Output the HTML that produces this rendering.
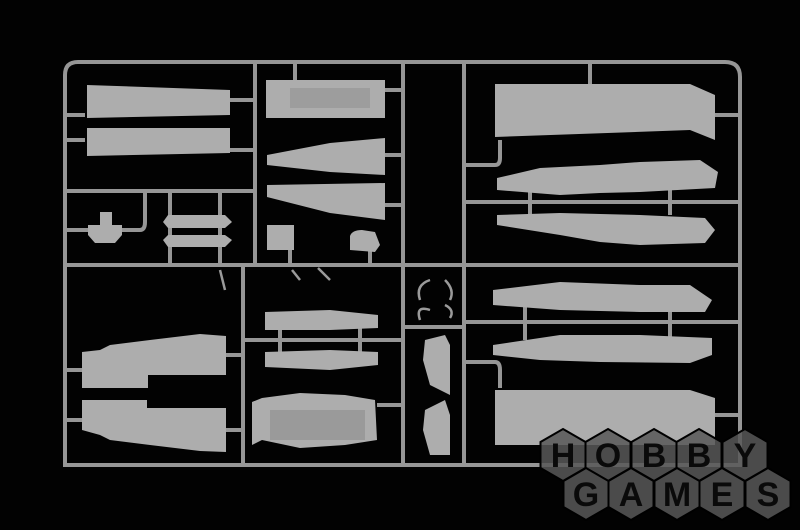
<!DOCTYPE html>
<html><head><meta charset="utf-8"><style>
html,body{margin:0;padding:0;background:#000;width:800px;height:530px;overflow:hidden}
svg{display:block}
.hx text{font-family:"Liberation Sans",sans-serif;font-weight:bold;font-size:34px;fill:#0a0a0a;text-anchor:middle;dominant-baseline:central}
</style></head><body>
<svg width="800" height="530" viewBox="0 0 800 530" xmlns="http://www.w3.org/2000/svg">
<rect width="800" height="530" fill="#020202"/>
<g fill="none" stroke="#969696" stroke-width="4">
<path d="M65,465 L65,75 Q65,62 78,62 L725,62 Q740,62 740,77 L740,465 Z"/>
<line x1="255" y1="62" x2="255" y2="265"/>
<line x1="243" y1="265" x2="243" y2="465"/>
<line x1="403" y1="62" x2="403" y2="465"/>
<line x1="464" y1="62" x2="464" y2="465"/>
<line x1="65" y1="191" x2="255" y2="191"/>
<line x1="65" y1="265" x2="740" y2="265"/>
<line x1="464" y1="202" x2="740" y2="202"/>
<line x1="464" y1="322" x2="740" y2="322"/>
<line x1="243" y1="340" x2="403" y2="340"/>
<line x1="403" y1="327" x2="464" y2="327"/>
<path d="M464,165 L495,165 Q500,165 500,158 L500,140"/>
<path d="M464,362 L495,362 Q500,362 500,370 L500,388"/>
<path d="M65,230 L140,230 Q145,230 145,222 L145,191"/>
<line x1="170" y1="191" x2="170" y2="265"/>
<line x1="220" y1="191" x2="220" y2="265"/>
<line x1="295" y1="62" x2="295" y2="80"/>
<line x1="590" y1="62" x2="590" y2="85"/>
<line x1="65" y1="115" x2="85" y2="115"/>
<line x1="65" y1="140" x2="85" y2="140"/>
<line x1="230" y1="100" x2="255" y2="100"/>
<line x1="230" y1="150" x2="255" y2="150"/>
<line x1="385" y1="90" x2="403" y2="90"/>
<line x1="385" y1="155" x2="403" y2="155"/>
<line x1="385" y1="205" x2="403" y2="205"/>
<line x1="715" y1="115" x2="740" y2="115"/>
<line x1="715" y1="415" x2="740" y2="415"/>
<line x1="530" y1="190" x2="530" y2="215"/>
<line x1="670" y1="190" x2="670" y2="215"/>
<line x1="525" y1="305" x2="525" y2="340"/>
<line x1="670" y1="305" x2="670" y2="340"/>
<line x1="280" y1="325" x2="280" y2="355"/>
<line x1="360" y1="325" x2="360" y2="355"/>
<line x1="226" y1="355" x2="243" y2="355"/>
<line x1="226" y1="430" x2="243" y2="430"/>
<line x1="65" y1="370" x2="82" y2="370"/>
<line x1="65" y1="420" x2="82" y2="420"/>
<line x1="377" y1="405" x2="403" y2="405"/>
<line x1="290" y1="240" x2="290" y2="265"/>
<line x1="370" y1="240" x2="370" y2="265"/>
</g>
<g fill="#adadad">
<polygon points="87,85 230,90 230,115 87,118"/>
<polygon points="87,128 230,128 230,153 87,156"/>
<polygon points="266,80 385,80 385,118 266,118"/>
<polygon points="267,155 330,143 385,138 385,175 330,172 267,165"/>
<polygon points="267,185 385,183 385,220 330,213 267,197"/>
<polygon points="100,212 112,212 112,225 122,225 122,235 115,243 95,243 88,235 88,225 100,225"/>
<polygon points="168,215 225,215 232,222 225,228 168,228 163,222"/>
<polygon points="168,235 225,235 232,240 225,247 168,247 163,240"/>
<rect x="267" y="225" width="27" height="25"/>
<path d="M350,250 L350,236 Q352,230 362,230 L375,232 L380,245 L375,252 Z"/>
<polygon points="495,84 690,84 715,95 715,140 690,130 495,137"/>
<polygon points="497,178 540,168 600,165 640,162 700,160 718,172 715,188 640,192 600,193 560,195 497,190"/>
<polygon points="497,215 560,213 640,215 705,218 715,230 705,243 640,245 600,242 560,235 497,225"/>
<polygon points="493,290 560,282 640,285 690,285 712,300 705,312 640,312 560,310 493,305"/>
<polygon points="493,345 560,335 640,335 712,338 712,355 690,363 600,362 540,360 493,355"/>
<polygon points="495,390 690,390 715,398 715,445 690,445 495,445"/>
<polygon points="82,352 100,350 110,345 150,340 200,334 226,336 226,375 148,375 148,388 82,388"/>
<polygon points="82,400 147,400 147,408 226,408 226,452 200,451 150,445 110,440 100,435 82,430"/>
<polygon points="265,312 330,310 378,315 378,328 330,330 265,330"/>
<polygon points="265,352 330,350 378,352 378,365 330,370 265,367"/>
<polygon points="252,402 262,398 300,393 345,395 375,400 377,440 345,445 300,448 262,440 252,445"/>
<polygon points="425,340 445,335 450,345 450,395 430,385 423,360"/>
<polygon points="425,410 445,400 450,415 450,455 430,455 423,430"/>
</g>
<g fill="#8e8e8e">
<rect x="270" y="410" width="95" height="30" opacity=".6"/>
<rect x="290" y="88" width="80" height="20" opacity=".5"/>
</g>
<g fill="none" stroke="#9a9a9a" stroke-width="2.5">
<path d="M430,280 Q415,285 420,300"/><path d="M445,280 Q455,290 450,300"/>
<path d="M430,310 Q415,305 420,320"/><path d="M445,305 Q455,310 450,318"/>
<line x1="292" y1="270" x2="300" y2="280"/><line x1="318" y1="268" x2="330" y2="280"/>
<line x1="220" y1="270" x2="225" y2="290"/>
</g>
<g class="hx">
<g fill="#585858" fill-opacity="0.85" stroke="#000" stroke-width="2">
<polygon points="0,-26 22.5,-13 22.5,13 0,26 -22.5,13 -22.5,-13" transform="translate(563,455)"/>
<polygon points="0,-26 22.5,-13 22.5,13 0,26 -22.5,13 -22.5,-13" transform="translate(608,455)"/>
<polygon points="0,-26 22.5,-13 22.5,13 0,26 -22.5,13 -22.5,-13" transform="translate(654,455)"/>
<polygon points="0,-26 22.5,-13 22.5,13 0,26 -22.5,13 -22.5,-13" transform="translate(699,455)"/>
<polygon points="0,-26 22.5,-13 22.5,13 0,26 -22.5,13 -22.5,-13" transform="translate(745,455)"/>
<polygon points="0,-26 22.5,-13 22.5,13 0,26 -22.5,13 -22.5,-13" transform="translate(586,494)"/>
<polygon points="0,-26 22.5,-13 22.5,13 0,26 -22.5,13 -22.5,-13" transform="translate(631,494)"/>
<polygon points="0,-26 22.5,-13 22.5,13 0,26 -22.5,13 -22.5,-13" transform="translate(677,494)"/>
<polygon points="0,-26 22.5,-13 22.5,13 0,26 -22.5,13 -22.5,-13" transform="translate(722,494)"/>
<polygon points="0,-26 22.5,-13 22.5,13 0,26 -22.5,13 -22.5,-13" transform="translate(768,494)"/>
</g>
<text x="563" y="456">H</text><text x="608" y="456">O</text><text x="654" y="456">B</text><text x="699" y="456">B</text><text x="745" y="456">Y</text>
<text x="586" y="495">G</text><text x="631" y="495">A</text><text x="677" y="495">M</text><text x="722" y="495">E</text><text x="768" y="495">S</text>
</g>
</svg>
</body></html>
